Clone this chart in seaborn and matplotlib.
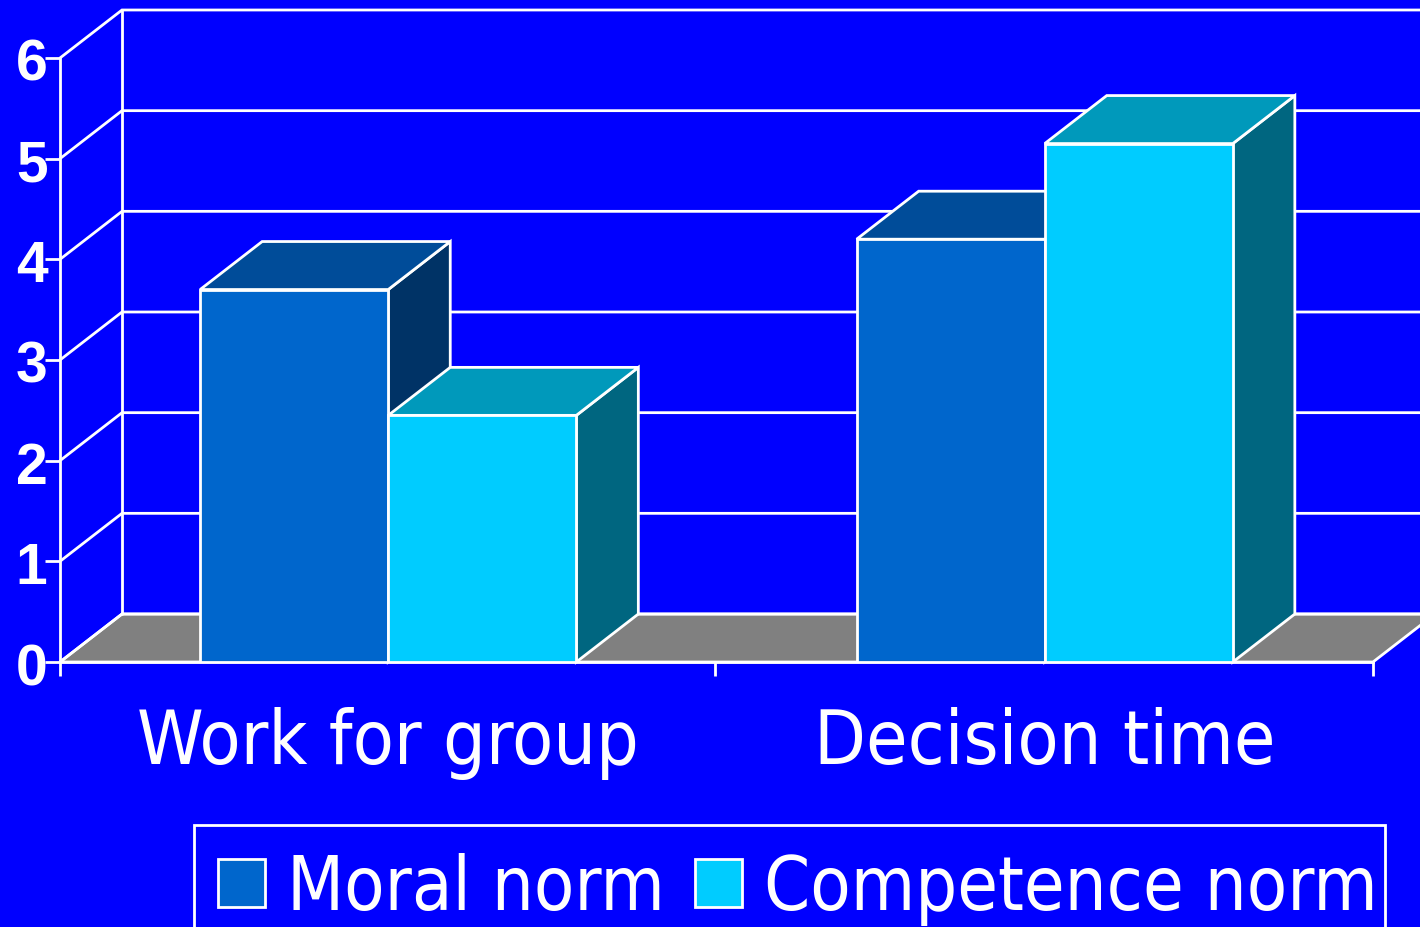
import matplotlib
matplotlib.use("Agg")
import matplotlib.pyplot as plt
from matplotlib.font_manager import FontProperties
from matplotlib.patches import Rectangle
from matplotlib.transforms import ScaledTranslation
import seaborn as sns
import pandas as pd

sns.set_theme(style="white")

# values
groups = ["Work for group", "Decision time"]
norms = ["Moral norm", "Competence norm"]
moral_vals = [3.7, 4.2]
competence_vals = [2.45, 5.15]
yticks = [0, 1, 2, 3, 4, 5, 6]

front_cols = ["#0066CC", "#00CCFF"]
top_cols = ["#004C99", "#0099BB"]
side_cols = ["#003366", "#006680"]
bg = "#0000FF"
LABEL_FONT = "DejaVu Sans"

df = pd.DataFrame({
    "group": groups * 2,
    "norm": [norms[0]] * 2 + [norms[1]] * 2,
    "value": moral_vals + competence_vals,
})

W, H = 1420, 928
fig = plt.figure(figsize=(W / 100, H / 100), dpi=100, facecolor=bg)
ax = fig.add_axes([60 / W, 1 - 663 / H, 1313 / W, 604 / H], facecolor="none")

sns.barplot(data=df, x="group", y="value", hue="norm", palette=front_cols,
            width=0.573, gap=0, edgecolor="white", linewidth=2, saturation=1,
            errorbar=None, ax=ax)
ax.set_xlim(-0.5, 1.5)
ax.set_ylim(0, 6)

# fake 3D depth, in data units
dx = 62 / 656.5
dy = 48 / 100.67
kw = dict(edgecolor="white", linewidth=2, clip_on=False)

# floor and back wall
ax.fill([-0.5, -0.5 + dx, 1.5 + dx, 1.5], [0, dy, dy, 0], facecolor="#808080", zorder=1, **kw)
for v in yticks:
    ax.plot([-0.5, -0.5 + dx, 1.5 + dx + 1], [v, v + dy, v + dy], color="white", lw=2,
            clip_on=False, zorder=1.5, solid_joinstyle="miter")
ax.plot([-0.5 + dx, -0.5 + dx], [dy, 6 + dy], color="white", lw=2, clip_on=False, zorder=1.5)

# bar sides and tops
for i, cont in enumerate(ax.containers):
    for bar in cont:
        x0, x1 = bar.get_x(), bar.get_x() + bar.get_width()
        h = bar.get_height()
        ax.fill([x1, x1 + dx, x1 + dx, x1], [0, dy, h + dy, h], facecolor=side_cols[i], zorder=3 + 2 * i, **kw)
        ax.fill([x0, x0 + dx, x1 + dx, x1], [h, h + dy, h + dy, h], facecolor=top_cols[i], zorder=3 + 2 * i, **kw)
        bar.set_zorder(4 + 2 * i)

for s in ["top", "right"]:
    ax.spines[s].set_visible(False)
for s in ["left", "bottom"]:
    ax.spines[s].set_color("white")
    ax.spines[s].set_linewidth(2)
    ax.spines[s].set_zorder(2)

ax.set_xlabel("")
ax.set_ylabel("")
ax.set_yticks(yticks)
ax.tick_params(axis="y", length=11, width=2, color="white", left=True, pad=-2)
shift = ScaledTranslation(0, -7 / 100, fig.dpi_scale_trans)
for t in ax.get_yticklabels():
    t.set(color="white", fontsize=41, fontweight="bold", family="Liberation Sans", va="center")
    t.set_transform(t.get_transform() + shift)

ax.set_xticks([-0.5, 0.498, 1.5], minor=True)
ax.tick_params(axis="x", which="minor", length=10, width=2, color="white", bottom=True)
ax.tick_params(axis="x", which="major", length=0, pad=32)
for t in ax.get_xticklabels():
    t.set(color="white", fontsize=54, family=LABEL_FONT, stretch="condensed")

handles, labels = ax.get_legend_handles_labels()
ax.get_legend().remove()
leg_font = FontProperties(family=LABEL_FONT, stretch="condensed", size=53)
fig.legend(handles, labels, loc="upper left", bbox_to_anchor=(218 / W, 1 - 853 / H),
           borderaxespad=0, ncol=2, labelcolor="white", frameon=False,
           handlelength=0.64, handleheight=0.64, handletextpad=0.3,
           columnspacing=0.4, borderpad=0, prop=leg_font)
# legend box runs off the bottom of the picture
fig.add_artist(Rectangle((194 / W, 1 - 945 / H), 1191 / W, 119 / H, transform=fig.transFigure,
                         facecolor="none", edgecolor="white", linewidth=2))

fig.savefig("out.png", dpi=100, facecolor=bg)
